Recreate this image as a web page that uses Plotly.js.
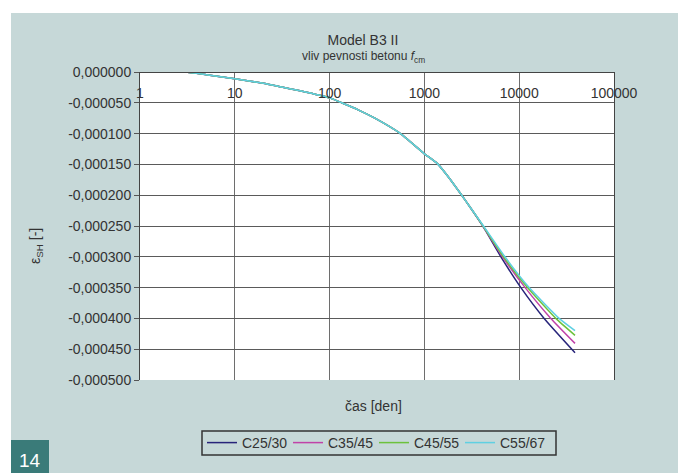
<!DOCTYPE html>
<html>
<head>
<meta charset="utf-8">
<script src="https://cdn.plot.ly/plotly-3.0.1.min.js"></script>
<style>html,body{margin:0;padding:0;background:#fff;}#chart{width:678px;height:473px;}</style>
</head>
<body>
<div id="chart"></div>
<script>
// time [days] and shrinkage strain eps_SH [-]
var timeCommon = [1, 2, 3, 5, 10, 20, 30, 50, 100, 134, 200, 300, 546, 1000, 1371, 1800, 2393, 3000];
var epsCommon = [0, 0, 0, -0.0000044, -0.0000109, -0.0000184, -0.0000238, -0.0000308, -0.000042, -0.00005, -0.0000614, -0.000075, -0.000099, -0.0001328, -0.0001487, -0.0001708, -0.0001969, -0.0002183];

var timeC25_30 = [4110, 6415, 10420, 18330, 38800];
var epsC25_30 = [-0.0002495, -0.0003, -0.00035, -0.0004, -0.0004556];

var timeC35_45 = [4110, 6670, 11560, 21570, 38800];
var epsC35_45 = [-0.0002492, -0.0003, -0.00035, -0.0004, -0.0004405];

var timeC45_55 = [4110, 6834, 12230, 24340, 38800];
var epsC45_55 = [-0.0002487, -0.0003, -0.00035, -0.0004, -0.0004275];

var timeC55_67 = [4110, 7070, 12740, 26370, 38800];
var epsC55_67 = [-0.000248, -0.0003, -0.00035, -0.0004, -0.00042];

var seriesNames = ["C25/30", "C35/45", "C45/55", "C55/67"];
var seriesColors = ["#27247a", "#c042a8", "#6cc23c", "#5fd0e2"];
var yTickVals = [0, -0.00005, -0.0001, -0.00015, -0.0002, -0.00025, -0.0003, -0.00035, -0.0004, -0.00045, -0.0005];
var yTickText = ["0,000000", "-0,000050", "-0,000100", "-0,000150", "-0,000200", "-0,000250", "-0,000300", "-0,000350", "-0,000400", "-0,000450", "-0,000500"];
var xTickVals = [1, 10, 100, 1000, 10000, 100000];
var xTickText = ["1", "10", "100", "1000", "10000", "100000"];

var seriesTimes = [timeC25_30, timeC35_45, timeC45_55, timeC55_67];
var seriesEps = [epsC25_30, epsC35_45, epsC45_55, epsC55_67];
var traces = seriesNames.map(function (name, i) {
  return {
    x: timeCommon.concat(seriesTimes[i]), y: epsCommon.concat(seriesEps[i]),
    type: "scatter", mode: "lines", name: name,
    line: {color: seriesColors[i], width: 1.5, shape: "spline", smoothing: 0.5}
  };
});

var FONT = "Liberation Sans, Arial, Helvetica, sans-serif";
var L = 140, R = 614, T = 72, B = 380;
var W = R - L, H = B - T;
function px(x) { return (x - L) / W; }
function py(y) { return (B - y) / H; }

var layout = {
  width: 678, height: 473,
  margin: {l: L, r: 678 - R, t: T, b: 473 - B, pad: 0, autoexpand: false},
  paper_bgcolor: "#c6d8d8",
  plot_bgcolor: "#ffffff",
  font: {family: FONT, size: 14, color: "#333333"},
  showlegend: true,
  title: {text: "Model B3 II", x: 363 / 678, xref: "container", xanchor: "center", y: 1 - 40 / 473, yref: "container", yanchor: "middle", font: {size: 14, color: "#333333"}},
  xaxis: {
    type: "log", range: [0, 5], anchor: "free", position: 1, side: "bottom",
    tickvals: xTickVals, ticktext: xTickText, ticks: "", ticklabelstandoff: 8,
    showgrid: true, gridcolor: "#6e6e6e", gridwidth: 1,
    showline: true, linecolor: "#444444", linewidth: 1, mirror: true,
    zeroline: false, tickfont: {size: 14, color: "#333333"}
  },
  yaxis: {
    range: [-0.0005, 0], tickvals: yTickVals, ticktext: yTickText,
    ticks: "outside", ticklen: 5, tickcolor: "#555555", tickwidth: 1,
    showgrid: true, gridcolor: "#5a5a5a", gridwidth: 1,
    showline: true, linecolor: "#444444", linewidth: 1, mirror: true,
    zeroline: false, tickfont: {size: 14, color: "#333333"}
  },
  legend: {
    orientation: "h", x: px(202), xanchor: "left", y: py(443), yanchor: "middle",
    bgcolor: "rgba(0,0,0,0)", borderwidth: 0,
    font: {size: 14, color: "#333333"}, itemwidth: 30, entrywidth: 41, entrywidthmode: "pixels"
  },
  shapes: [
    {type: "rect", xref: "paper", yref: "paper", x0: px(-5), x1: px(700), y0: py(13), y1: py(-5), fillcolor: "#ffffff", line: {width: 0}, layer: "below"},
    {type: "rect", xref: "paper", yref: "paper", x0: px(-5), x1: px(11), y0: py(480), y1: py(-5), fillcolor: "#ffffff", line: {width: 0}, layer: "below"},
    {type: "rect", xref: "paper", yref: "paper", x0: px(11), x1: px(49), y0: py(473), y1: py(440), fillcolor: "#3a7b79", line: {width: 0}, layer: "below"},
    {type: "rect", xref: "paper", yref: "paper", x0: px(202), x1: px(556), y0: py(455), y1: py(431), fillcolor: "rgba(0,0,0,0)", line: {width: 1.5, color: "#333333"}, layer: "below"}
  ],
  annotations: [
    {text: "vliv pevnosti betonu <i>f</i><sub>cm</sub>", xref: "paper", yref: "paper", x: px(363), y: py(57), xanchor: "center", yanchor: "middle", showarrow: false, font: {size: 12, color: "#333333"}},
    {text: "čas [den]", xref: "paper", yref: "paper", x: px(373), y: py(406), xanchor: "center", yanchor: "middle", showarrow: false, font: {size: 14, color: "#333333"}},
    {text: "ε<sub>SH</sub> [-]", xref: "paper", yref: "paper", x: px(36), y: py(246), xanchor: "center", yanchor: "middle", textangle: -90, showarrow: false, font: {size: 14, color: "#333333"}},
    {text: "14", xref: "paper", yref: "paper", x: px(30), y: py(460), xanchor: "center", yanchor: "middle", showarrow: false, font: {size: 19, color: "#ffffff"}}
  ]
};

Plotly.newPlot("chart", traces, layout, {displayModeBar: false, staticPlot: true});
</script>
</body>
</html>
